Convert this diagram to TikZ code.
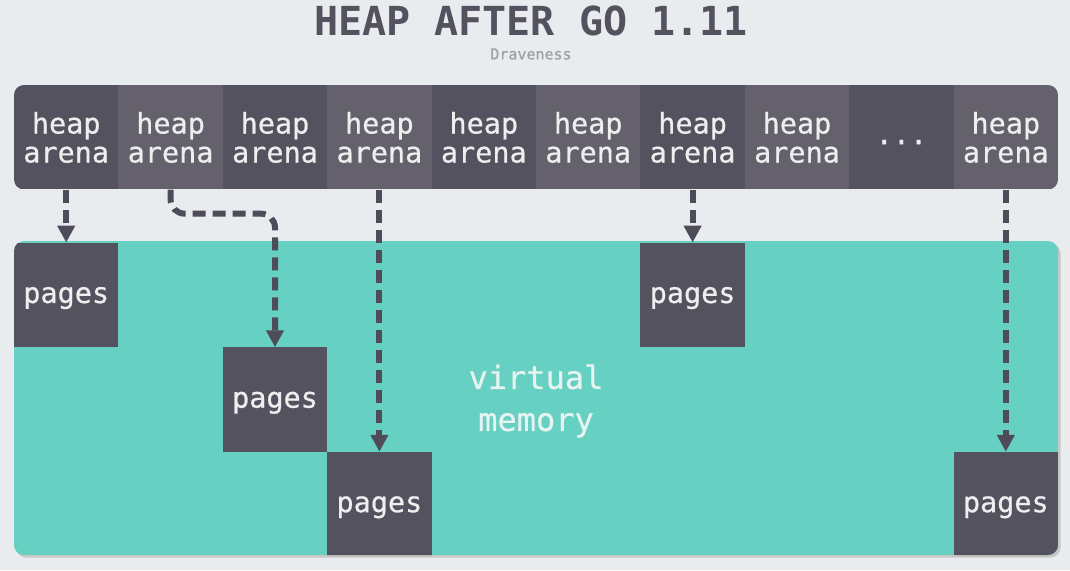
\documentclass[tikz,border=0pt]{standalone}
\usepackage{fontspec}
\setmonofont{DejaVu Sans Mono}
\usetikzlibrary{arrows.meta}
\definecolor{bg}{HTML}{E8ECEF}
\definecolor{celldark}{HTML}{55525F}
\definecolor{celllight}{HTML}{64616C}
\definecolor{vm}{HTML}{66D0C2}
\definecolor{ink}{HTML}{4F4C59}
\definecolor{txt}{HTML}{EEEEEE}
\definecolor{vmtxt}{HTML}{E6F3F0}
\definecolor{sub}{HTML}{9AA2A3}
\begin{document}
\begin{tikzpicture}[x=1pt,y=-1pt,
  cell/.style={minimum width=104.4pt,minimum height=104.5pt,inner sep=0pt,text depth=0pt,
    text=txt,font=\ttfamily\addfontfeature{FakeBold=0.6}\fontsize{28.5}{29}\selectfont,align=center},
  darkcell/.style={cell,fill=celldark},
  lightcell/.style={cell,fill=celllight},
  link/.style={draw=ink,line width=6pt,dash pattern=on 13pt off 7pt,
    -{Triangle[width=17pt,length=17pt]}}]
  \useasboundingbox (0,0) rectangle (1070,570);
  \fill[bg] (0,0) rectangle (1070,570);

  % title
  \node[font=\ttfamily\bfseries\fontsize{40}{42}\selectfont,text=celldark] (title) at (531,21) {HEAP AFTER GO 1.11};
  \node[font=\ttfamily\addfontfeature{FakeBold=0.6}\fontsize{15}{16}\selectfont,text=sub] (author) at (531,54) {Draveness};

  % row of heap arenas
  \begin{scope}
    \clip[rounded corners=10pt] (14,85) rectangle (1058,189.5);
    \node[darkcell]  (a1)  at (66.2,137.2)   {heap\\arena};
    \node[lightcell] (a2)  at (170.6,137.2)  {heap\\arena};
    \node[darkcell]  (a3)  at (275.0,137.2)  {heap\\arena};
    \node[lightcell] (a4)  at (379.4,137.2)  {heap\\arena};
    \node[darkcell]  (a5)  at (483.8,137.2)  {heap\\arena};
    \node[lightcell] (a6)  at (588.2,137.2)  {heap\\arena};
    \node[darkcell]  (a7)  at (692.6,137.2)  {heap\\arena};
    \node[lightcell] (a8)  at (797.0,137.2)  {heap\\arena};
    \node[darkcell]  (a9)  at (901.4,137.2)  {\raisebox{-7pt}{...}};
    \node[lightcell] (a10) at (1005.8,137.2) {heap\\arena};
  \end{scope}

  % virtual memory with its pages
  \fill[black!22,rounded corners=10pt] (16,243.5) rectangle (1060.5,557.5);
  \begin{scope}
    \clip[rounded corners=10pt] (14,241) rectangle (1058,555);
    \fill[vm] (14,241) rectangle (1058,555);
    \node[darkcell] (p1) at (66.2,295)   {pages};
    \node[darkcell] (p2) at (275.0,399.7)  {pages};
    \node[darkcell] (p3) at (379.4,504.2)  {pages};
    \node[darkcell] (p4) at (692.6,295)   {pages};
    \node[darkcell] (p5) at (1005.8,504.2) {pages};
  \end{scope}
  \node[text=vmtxt,font=\ttfamily\addfontfeature{FakeBold=0.6}\fontsize{32}{42}\selectfont,align=center] (vmlabel) at (536,401) {virtual\\memory};

  % arena to pages mappings
  \draw[link] (a1.south) -- (p1.north);
  \draw[link,rounded corners=14pt] (a2.south) -- ++(0,24) -| (p2.north);
  \draw[link] (a4.south) -- (p3.north);
  \draw[link] (a7.south) -- (p4.north);
  \draw[link] (a10.south) -- (p5.north);
\end{tikzpicture}
\end{document}
